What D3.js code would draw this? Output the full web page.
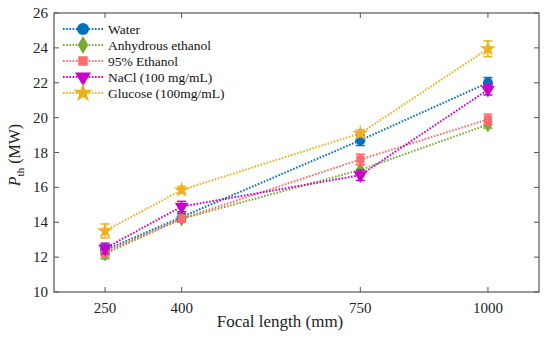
<!DOCTYPE html>
<html><head><meta charset="utf-8">
<script src="https://cdn.jsdelivr.net/npm/d3@7"></script>
<style>body{margin:0;background:#fff}svg text{font-family:"Liberation Serif","Times New Roman",serif}</style>
</head><body><svg id="c" width="550" height="338"></svg>
<script>
const focal = [250, 400, 750, 1000];
const seriesNames = ["Water", "Anhydrous ethanol", "95% Ethanol", "NaCl (100 mg/mL)", "Glucose (100mg/mL)"];
const water = [12.4, 14.3, 18.7, 22.0];
const anhydrous = [12.2, 14.2, 17.0, 19.6];
const ethanol95 = [12.3, 14.2, 17.6, 19.9];
const nacl = [12.5, 14.9, 16.7, 21.6];
const glucose = [13.5, 15.85, 19.1, 23.95];
const errWater = [0.3, 0.2, 0.3, 0.3];
const errAnhydrous = [0.3, 0.2, 0.3, 0.2];
const errEthanol95 = [0.3, 0.2, 0.3, 0.3];
const errNacl = [0.3, 0.3, 0.3, 0.3];
const errGlucose = [0.4, 0.2, 0.2, 0.45];
const yTicks = [10, 12, 14, 16, 18, 20, 22, 24, 26];

const colors = ["#0072BD", "#77AC30", "#FF6B6B", "#C800C8", "#EDB120"];
const shapes = [d3.symbolCircle, d3.symbolDiamond, d3.symbolSquare, "tri", d3.symbolStar];
const plotSizes = [80, 70, 64, 80, 80];
const legSizes = [115, 95, 90, 110, 120];
const vals = [water, anhydrous, ethanol95, nacl, glucose];
const errs = [errWater, errAnhydrous, errEthanol95, errNacl, errGlucose];

const svg = d3.select("#c");
const L = 54, R = 539, T = 13, B = 292;
const x = d3.scaleLinear().domain([150, 1100]).range([L, R]);
const y = d3.scaleLinear().domain([10, 26]).range([B, T]);

function symPath(i, s) {
  const t = shapes[i] === "tri" ? d3.symbolTriangle : shapes[i];
  return d3.symbol().type(t).size(s)();
}
function rot(i) { return shapes[i] === "tri" ? " rotate(180)" : ""; }

// series
vals.forEach((v, i) => {
  const g = svg.append("g");
  const line = d3.line().x((d, j) => x(focal[j])).y(d => y(d));
  g.append("path").attr("d", line(v)).attr("fill", "none").attr("stroke", colors[i])
    .attr("stroke-width", 2).attr("stroke-dasharray", "1.6,1.6");
  v.forEach((d, j) => {
    const cx = x(focal[j]), e = errs[i][j];
    g.append("line").attr("x1", cx).attr("x2", cx).attr("y1", y(d - e)).attr("y2", y(d + e))
      .attr("stroke", colors[i]).attr("stroke-width", 1.5);
    [d - e, d + e].forEach(t => g.append("line").attr("x1", cx - 4.5).attr("x2", cx + 4.5)
      .attr("y1", y(t)).attr("y2", y(t)).attr("stroke", colors[i]).attr("stroke-width", 1.5));
    g.append("path").attr("d", symPath(i, plotSizes[i]))
      .attr("transform", `translate(${cx},${y(d)})` + rot(i))
      .attr("fill", colors[i]);
  });
});

// frame
const ax = "#555";
svg.append("rect").attr("x", L).attr("y", T).attr("width", R - L).attr("height", B - T)
  .attr("fill", "none").attr("stroke", ax).attr("stroke-width", 1.2);
focal.forEach(f => {
  svg.append("line").attr("x1", x(f)).attr("x2", x(f)).attr("y1", B).attr("y2", B - 5).attr("stroke", ax);
  svg.append("line").attr("x1", x(f)).attr("x2", x(f)).attr("y1", T).attr("y2", T + 5).attr("stroke", ax);
  svg.append("text").attr("x", x(f)).attr("y", B + 21).attr("text-anchor", "middle")
    .attr("font-size", 15).attr("fill", "#222").text(f);
});
yTicks.forEach(t => {
  svg.append("line").attr("x1", L).attr("x2", L + 5).attr("y1", y(t)).attr("y2", y(t)).attr("stroke", ax);
  svg.append("line").attr("x1", R).attr("x2", R - 5).attr("y1", y(t)).attr("y2", y(t)).attr("stroke", ax);
  svg.append("text").attr("x", L - 6).attr("y", y(t) + 5).attr("text-anchor", "end")
    .attr("font-size", 15).attr("fill", "#222").text(t);
});

// axis labels
svg.append("text").attr("x", 280).attr("y", 327).attr("text-anchor", "middle")
  .attr("font-size", 17).attr("fill", "#222").text("Focal length (mm)");
const yl = svg.append("text").attr("transform", "translate(20,155) rotate(-90)")
  .attr("text-anchor", "middle").attr("font-size", 16).attr("fill", "#222");
yl.append("tspan").attr("font-style", "italic").text("P");
yl.append("tspan").attr("font-size", 11).attr("dy", 4).text("th");
yl.append("tspan").attr("dy", -4).text(" (MW)");

// legend
seriesNames.forEach((n, i) => {
  const ly = 29 + i * 16;
  svg.append("line").attr("x1", 63).attr("x2", 103).attr("y1", ly).attr("y2", ly)
    .attr("stroke", colors[i]).attr("stroke-width", 2).attr("stroke-dasharray", "1.6,1.6");
  svg.append("path").attr("d", symPath(i, legSizes[i]))
    .attr("transform", `translate(83,${ly})` + rot(i))
    .attr("fill", colors[i]);
  svg.append("text").attr("x", 108).attr("y", ly + 4.5).attr("font-size", 13.5).attr("fill", "#111").text(n);
});
</script></body></html>
